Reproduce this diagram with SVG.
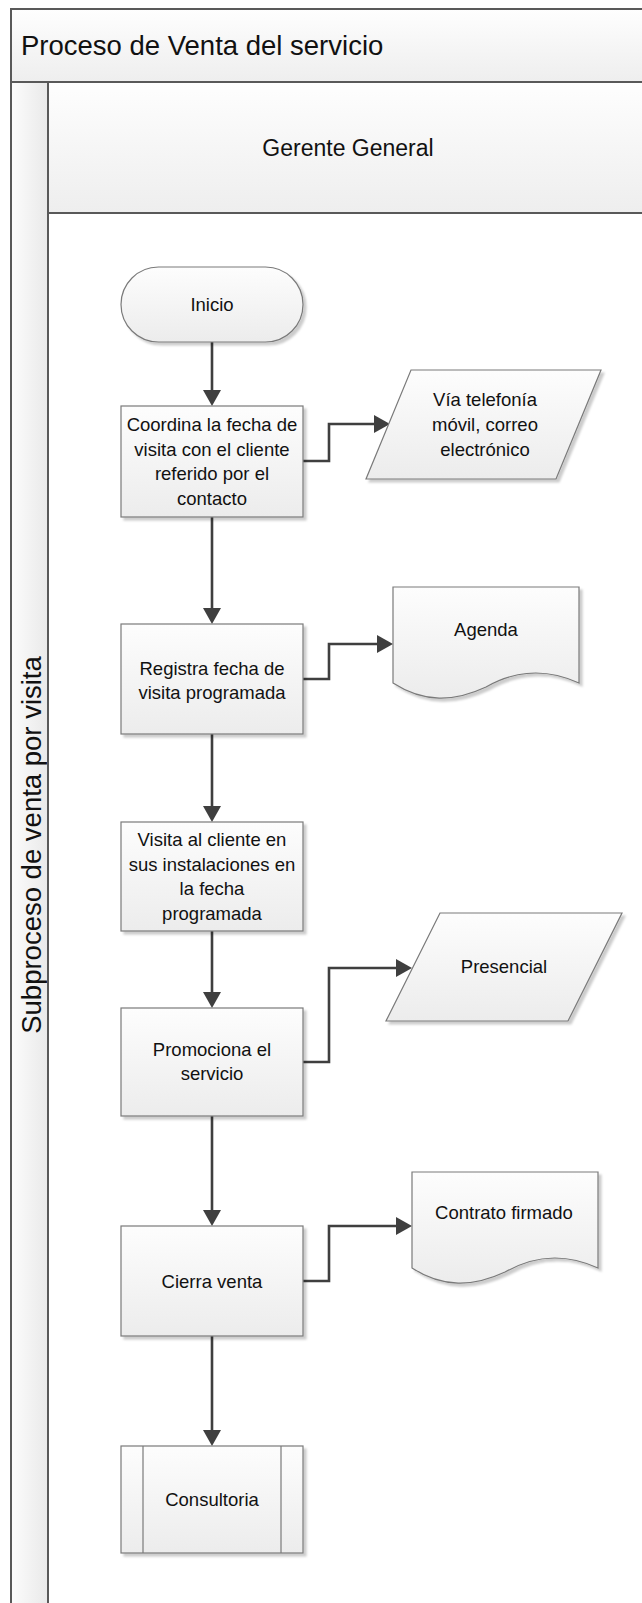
<svg xmlns="http://www.w3.org/2000/svg" width="642" height="1603" viewBox="0 0 642 1603">
  <defs>
    <linearGradient id="shapeFill" x1="0" y1="0" x2="0" y2="1">
      <stop offset="0" stop-color="#fdfdfd"/>
      <stop offset="1" stop-color="#ececec"/>
    </linearGradient>
    <linearGradient id="bandFill" x1="0" y1="0" x2="0" y2="1">
      <stop offset="0" stop-color="#fefefe"/>
      <stop offset="1" stop-color="#eeeeee"/>
    </linearGradient>
    <linearGradient id="laneFill" x1="0" y1="0" x2="1" y2="0">
      <stop offset="0" stop-color="#fcfcfc"/>
      <stop offset="1" stop-color="#e9e9e9"/>
    </linearGradient>
    <filter id="shadow" x="-10%" y="-10%" width="130%" height="130%">
      <feDropShadow dx="3" dy="3" stdDeviation="1.3" flood-color="#000" flood-opacity="0.2"/>
    </filter>
    <marker id="arrow" viewBox="0 0 16 18" refX="3" refY="9" markerWidth="16" markerHeight="18" markerUnits="userSpaceOnUse" orient="auto">
      <path d="M0,0 L16,9 L0,18 Z" fill="#3f3f3f"/>
    </marker>
    <path id="docShape" d="M0,0 H186 V96 C151,80 121,84 93,100 C61,115 31,116 0,96 Z"/>
  </defs>
  <style>
    .frame { fill: url(#bandFill); stroke: #595959; stroke-width: 2; }
    .lane { fill: url(#laneFill); stroke: #595959; stroke-width: 2; }
    .shape { fill: url(#shapeFill); stroke: #7a7a7a; stroke-width: 1.2; filter: url(#shadow); }
    .inner { fill: none; stroke: #7a7a7a; stroke-width: 1.2; }
    .conn { fill: none; stroke: #3f3f3f; stroke-width: 2.6; marker-end: url(#arrow); }
    text { font-family: "Liberation Sans", Arial, sans-serif; fill: #111; }
    .lbl { font-size: 18.5px; text-anchor: middle; }
    .big { font-size: 27.5px; }
    .hdr { font-size: 23px; text-anchor: middle; }
  </style>

  <rect width="642" height="1603" fill="#ffffff"/>

  <!-- pool and lane headers -->
  <g id="pool">
    <rect class="frame" x="11" y="9" width="700" height="73"/>
    <text class="big" x="21" y="55">Proceso de Venta del servicio</text>
  </g>
  <g id="lane-side">
    <rect class="lane" x="11" y="82" width="37" height="1600"/>
    <text class="big" text-anchor="middle" transform="translate(40.5,845) rotate(-90)">Subproceso de venta por visita</text>
  </g>
  <g id="lane-header">
    <rect class="frame" x="48" y="82" width="700" height="131"/>
    <text class="hdr" x="348" y="156">Gerente General</text>
  </g>
  <g id="lane-body">
    <rect x="48" y="213" width="700" height="1500" fill="none" stroke="#595959" stroke-width="2"/>
  </g>

  <!-- connectors -->
  <g id="connectors">
    <path class="conn" d="M212,342 V393"/>
    <path class="conn" d="M212,517 V611"/>
    <path class="conn" d="M212,734 V809"/>
    <path class="conn" d="M212,931 V995"/>
    <path class="conn" d="M212,1116 V1213"/>
    <path class="conn" d="M212,1336 V1433"/>
    <path class="conn" d="M303,461 H329 V424 H377"/>
    <path class="conn" d="M303,679 H329 V644 H380"/>
    <path class="conn" d="M303,1062 H329 V968 H399"/>
    <path class="conn" d="M303,1281 H329 V1226 H399"/>
  </g>

  <!-- flow nodes -->
  <g id="inicio">
    <rect class="shape" x="121" y="267" width="182" height="75" rx="37.5" ry="37.5"/>
    <text class="lbl" x="212" y="311">Inicio</text>
  </g>

  <g id="coordina">
    <rect class="shape" x="121" y="406" width="182" height="111"/>
    <text class="lbl" x="212" y="431">Coordina la fecha de</text>
    <text class="lbl" x="212" y="455.5">visita con el cliente</text>
    <text class="lbl" x="212" y="480">referido por el</text>
    <text class="lbl" x="212" y="504.5">contacto</text>
  </g>

  <g id="via-telefonia">
    <polygon class="shape" points="411,370 601,370 556,479 366,479"/>
    <text class="lbl" x="485" y="406">Vía telefonía</text>
    <text class="lbl" x="485" y="431">móvil, correo</text>
    <text class="lbl" x="485" y="455.5">electrónico</text>
  </g>

  <g id="registra">
    <rect class="shape" x="121" y="624" width="182" height="110"/>
    <text class="lbl" x="212" y="674.5">Registra fecha de</text>
    <text class="lbl" x="212" y="699">visita programada</text>
  </g>

  <g id="agenda" transform="translate(393,587)">
    <use href="#docShape" class="shape"/>
    <text class="lbl" x="93" y="49">Agenda</text>
  </g>

  <g id="visita">
    <rect class="shape" x="121" y="822" width="182" height="109"/>
    <text class="lbl" x="212" y="846">Visita al cliente en</text>
    <text class="lbl" x="212" y="870.5">sus instalaciones en</text>
    <text class="lbl" x="212" y="895">la fecha</text>
    <text class="lbl" x="212" y="919.5">programada</text>
  </g>

  <g id="promociona">
    <rect class="shape" x="121" y="1008" width="182" height="108"/>
    <text class="lbl" x="212" y="1055.5">Promociona el</text>
    <text class="lbl" x="212" y="1080">servicio</text>
  </g>

  <g id="presencial">
    <polygon class="shape" points="440,913 622,913 568,1021 386,1021"/>
    <text class="lbl" x="504" y="973">Presencial</text>
  </g>

  <g id="cierra">
    <rect class="shape" x="121" y="1226" width="182" height="110"/>
    <text class="lbl" x="212" y="1288">Cierra venta</text>
  </g>

  <g id="contrato" transform="translate(412,1172)">
    <use href="#docShape" class="shape"/>
    <text class="lbl" x="92" y="47">Contrato firmado</text>
  </g>

  <g id="consultoria">
    <rect class="shape" x="121" y="1446" width="182" height="107"/>
    <line class="inner" x1="143" y1="1446" x2="143" y2="1553"/>
    <line class="inner" x1="281" y1="1446" x2="281" y2="1553"/>
    <text class="lbl" x="212" y="1506">Consultoria</text>
  </g>
</svg>
